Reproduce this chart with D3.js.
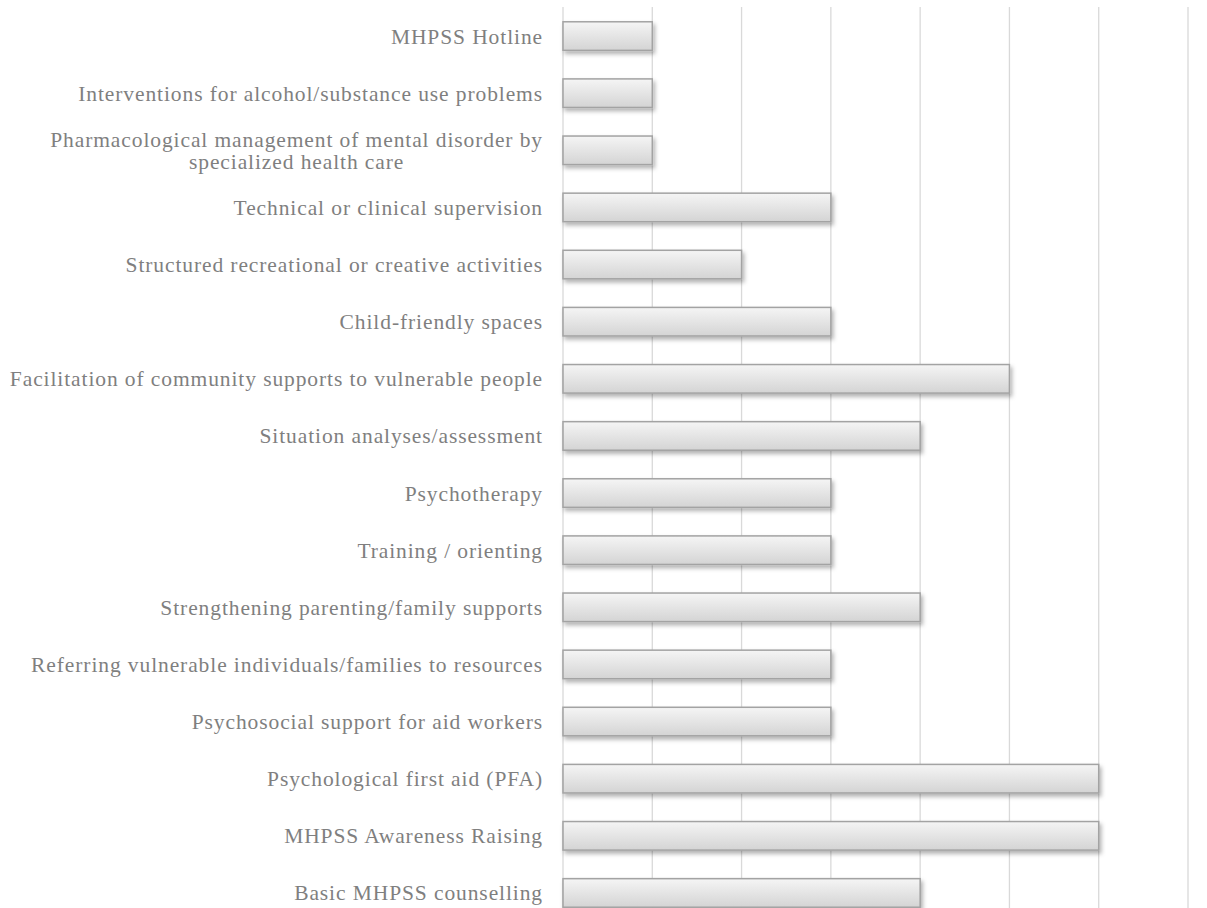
<!DOCTYPE html>
<html>
<head>
<meta charset="utf-8">
<script src="https://cdn.jsdelivr.net/npm/d3@7"></script>
<style>
  body { margin: 0; background: #fff; }
</style>
</head>
<body>
<svg id="chart" width="1207" height="908"></svg>
<script>
(function(){

  const categories = [
    'MHPSS Hotline',
    'Interventions for alcohol/substance use problems',
    'Pharmacological management of mental disorder by specialized health care',
    'Technical or clinical supervision',
    'Structured recreational or creative activities',
    'Child-friendly spaces',
    'Facilitation of community supports to vulnerable people',
    'Situation analyses/assessment',
    'Psychotherapy',
    'Training / orienting',
    'Strengthening parenting/family supports',
    'Referring vulnerable individuals/families to resources',
    'Psychosocial support for aid workers',
    'Psychological first aid (PFA)',
    'MHPSS Awareness Raising',
    'Basic MHPSS counselling'
  ]

  const values = [1, 1, 1, 3, 2, 3, 5, 4, 3, 3, 4, 3, 3, 6, 6, 4]

  const xTicks = [0, 1, 2, 3, 4, 5, 6, 7]

  // lines used when a label is too long for one row
  const wrapped = {
    'Pharmacological management of mental disorder by specialized health care':
      ['Pharmacological management of mental disorder by', 'specialized health care']
  }

  const svg = d3.select('#chart')

  const x = d3.scaleLinear().domain([0, 7]).range([563, 1188])
  const y = d3.scaleBand().domain(categories).range([7.5, 921.5])
    .paddingInner(0.5).paddingOuter(0.25)

  const defs = svg.append('defs')
  const grad = defs.append('linearGradient').attr('id', 'barGrad')
    .attr('x1', 0).attr('y1', 0).attr('x2', 0).attr('y2', 1)
  grad.append('stop').attr('offset', '0%').attr('stop-color', '#f5f5f5')
  grad.append('stop').attr('offset', '100%').attr('stop-color', '#d4d4d4')

  const shadow = defs.append('filter').attr('id', 'shadow')
    .attr('x', '-5%').attr('y', '-20%').attr('width', '115%').attr('height', '160%')
  shadow.append('feDropShadow').attr('dx', 2).attr('dy', 3)
    .attr('stdDeviation', 2).attr('flood-color', '#000').attr('flood-opacity', 0.3)

  // gridlines
  svg.append('g').selectAll('line').data(xTicks).enter().append('line')
    .attr('x1', d => x(d)).attr('x2', d => x(d))
    .attr('y1', 7).attr('y2', 908)
    .attr('stroke', '#d9d9d9').attr('stroke-width', 1.3)

  // bars
  svg.append('g').selectAll('rect').data(categories).enter().append('rect')
    .attr('x', x(0))
    .attr('y', d => y(d))
    .attr('width', (d, i) => x(values[i]) - x(0))
    .attr('height', y.bandwidth())
    .attr('fill', 'url(#barGrad)')
    .attr('stroke', '#a3a3a3').attr('stroke-width', 1.5)
    .attr('filter', 'url(#shadow)')

  // category labels
  const labels = svg.append('g').selectAll('text').data(categories).enter().append('text')
    .attr('font-family', 'Liberation Serif')
    .attr('font-size', '21.5px')
    .attr('letter-spacing', '0.9px')
    .attr('fill', '#7f7f7f')
    .attr('y', d => y(d) + y.bandwidth() / 2)

  labels.each(function(d) {
    const t = d3.select(this)
    const lines = wrapped[d] || [d]
    if (lines.length === 1) {
      t.attr('x', 543).attr('text-anchor', 'end').attr('dy', '0.35em').text(d)
    } else {
      t.attr('text-anchor', 'middle')
      const yc = y(d) + y.bandwidth() / 2
      t.selectAll('tspan').data(lines).enter().append('tspan')
        .attr('x', 0).attr('y', (l, i) => yc - 11 + i * 22).attr('dy', '0.35em')
        .text(l => l)
      // center the block under the longest line, right edge at 543
      const w = this.getBBox().width
      t.selectAll('tspan').attr('x', 543 - w / 2)
    }
  })

})()
</script>
</body>
</html>
